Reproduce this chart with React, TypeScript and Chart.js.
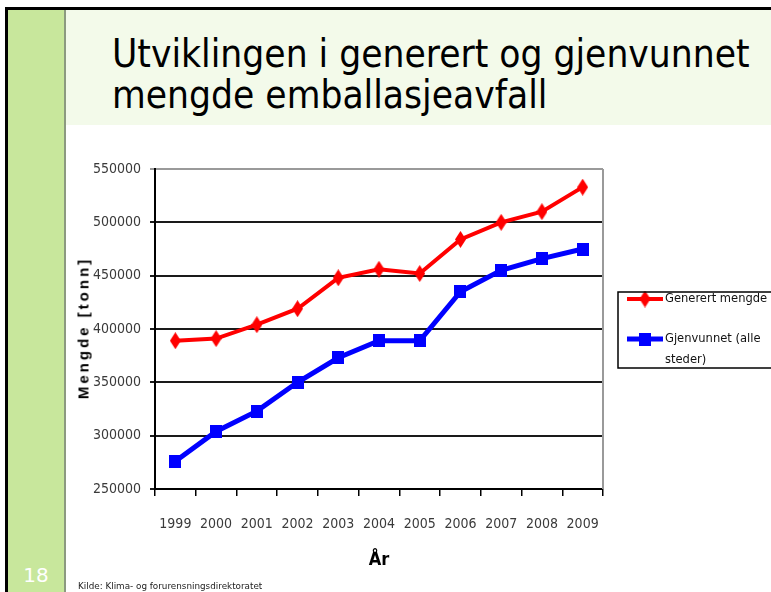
import React, { useEffect, useRef } from "react";
import { Chart, registerables } from "chart.js";

Chart.register(...registerables);

// ---- data ----
const years = ["1999", "2000", "2001", "2002", "2003", "2004", "2005", "2006", "2007", "2008", "2009"];
const generert = [389000, 391000, 404000, 419000, 448000, 456000, 452000, 484000, 500000, 510000, 533000];
const gjenvunnet = [276000, 304000, 323000, 350000, 373000, 389000, 389000, 435000, 455000, 466000, 475000];
const yTicks = [250000, 300000, 350000, 400000, 450000, 500000, 550000];
const seriesLabels = ["Generert mengde", "Gjenvunnet (alle steder)"];
const titleLines = ["Utviklingen i generert og gjenvunnet", "mengde emballasjeavfall"];
const yTitle = "Mengde [tonn]";
const xTitle = "År";
const slideNumber = "18";
const sourceText = "Kilde: Klima- og forurensningsdirektoratet";

const RED = "#ff0000";
const BLUE = "#0000ff";
const NARROW = "'DejaVu Sans Condensed', sans-serif";

function makeDiamond(color: string, w: number, h: number) {
  const c = document.createElement("canvas");
  c.width = w;
  c.height = h;
  const g = c.getContext("2d")!;
  g.fillStyle = color;
  g.beginPath();
  g.moveTo(w / 2, 0);
  g.lineTo(w, h / 2);
  g.lineTo(w / 2, h);
  g.lineTo(0, h / 2);
  g.closePath();
  g.fill();
  return c;
}

function makeSquare(color: string, w: number, h: number) {
  const c = document.createElement("canvas");
  c.width = w;
  c.height = h;
  const g = c.getContext("2d")!;
  g.fillStyle = color;
  g.fillRect(0, 0, w, h);
  return c;
}

const framePlugin = {
  id: "frame",
  beforeDatasetsDraw(chart: any) {
    const { ctx, chartArea } = chart;
    ctx.save();
    ctx.strokeStyle = "#9a9a9a";
    ctx.lineWidth = 2;
    ctx.beginPath();
    ctx.moveTo(chartArea.right, chartArea.top);
    ctx.lineTo(chartArea.right, chartArea.bottom);
    ctx.stroke();
    ctx.restore();
  },
};

const legendPlugin = {
  id: "boxLegend",
  afterDraw(chart: any) {
    const { ctx } = chart;
    const bx = 552, by = 167, bw = 220, bh = 76;
    const rowY = [174, 214];
    const lineX0 = 561, lineX1 = 597, textX = 599, lineH = 21, wrapW = 106;
    ctx.save();
    ctx.fillStyle = "#ffffff";
    ctx.fillRect(bx, by, bw, bh);
    ctx.font = `12.8px ${NARROW}`;
    ctx.textBaseline = "middle";
    chart.data.datasets.forEach((ds: any, i: number) => {
      const y = rowY[i];
      ctx.strokeStyle = ds.borderColor;
      ctx.lineWidth = ds.borderWidth;
      ctx.beginPath();
      ctx.moveTo(lineX0, y);
      ctx.lineTo(lineX1, y);
      ctx.stroke();
      const img = ds.pointStyle as HTMLCanvasElement;
      ctx.drawImage(img, (lineX0 + lineX1) / 2 - img.width / 2, y - img.height / 2);
      const words = String(ds.label).split(" ");
      const lines: string[] = [];
      let cur = "";
      words.forEach((w) => {
        const t = cur ? cur + " " + w : w;
        if (ctx.measureText(t).width > wrapW && cur) {
          lines.push(cur);
          cur = w;
        } else cur = t;
      });
      if (cur) lines.push(cur);
      ctx.fillStyle = "#111";
      lines.forEach((l, k) => ctx.fillText(l, textX, y + k * lineH));
    });
    ctx.strokeStyle = "#000";
    ctx.lineWidth = 1.5;
    ctx.strokeRect(bx, by, bw, bh);
    ctx.restore();
  },
};

export default function App() {
  const ref = useRef<HTMLCanvasElement>(null);

  useEffect(() => {
    const canvas = ref.current!;
    const diamond = makeDiamond(RED, 11, 17);
    const square = makeSquare(BLUE, 12, 13);
    const chart = new Chart(canvas, {
      type: "line",
      data: {
        labels: years,
        datasets: [
          {
            label: seriesLabels[0],
            data: generert,
            borderColor: RED,
            backgroundColor: RED,
            borderWidth: 4,
            pointStyle: diamond as any,
            pointRadius: 6,
            tension: 0,
            fill: false,
          },
          {
            label: seriesLabels[1],
            data: gjenvunnet,
            borderColor: BLUE,
            backgroundColor: BLUE,
            borderWidth: 5,
            pointStyle: square as any,
            pointRadius: 6,
            tension: 0,
            fill: false,
          },
        ],
      },
      options: {
        responsive: false,
        animation: false,
        layout: { padding: { left: 0, top: 44, right: 168, bottom: 0 } },
        plugins: { legend: { display: false }, tooltip: { enabled: false } },
        scales: {
          x: {
            type: "category",
            offset: true,
            grid: {
              offset: true,
              drawOnChartArea: false,
              drawTicks: true,
              tickLength: 7,
              color: "#000",
              lineWidth: 1.5,
            },
            border: { display: true, color: "#000", width: 2 },
            ticks: {
              color: "#3a3a3a",
              font: { family: NARROW, size: 14 },
              padding: 20,
              maxRotation: 0,
              autoSkip: false,
            },
            afterFit: (s: any) => {
              s.height = 103;
            },
          },
          y: {
            min: yTicks[0],
            max: yTicks[yTicks.length - 1],
            afterBuildTicks: (s: any) => {
              s.ticks = yTicks.map((v) => ({ value: v }));
            },
            grid: {
              color: (c: any) => (c.tick && c.tick.value === yTicks[yTicks.length - 1] ? "#9a9a9a" : "#1a1a1a"),
              lineWidth: 2,
              drawTicks: true,
              tickLength: 5,
            },
            border: { display: true, color: "#000", width: 2 },
            ticks: {
              color: "#3a3a3a",
              font: { family: NARROW, size: 14 },
              padding: 9,
              callback: (v: any) => String(v),
            },
            afterFit: (s: any) => {
              s.width = 89;
            },
          },
        },
      },
      plugins: [framePlugin, legendPlugin],
    });
    return () => chart.destroy();
  }, []);

  return (
    <div
      style={{
        position: "absolute",
        left: 0,
        top: 0,
        width: 771,
        height: 592,
        background: "#fff",
        overflow: "hidden",
        fontFamily: "'DejaVu Sans', sans-serif",
      }}
    >
      <div style={{ position: "absolute", left: 5, top: 7, width: 766, height: 3, background: "#000" }} />
      <div style={{ position: "absolute", left: 5, top: 7, width: 3, height: 585, background: "#000" }} />
      <div style={{ position: "absolute", left: 8, top: 10, width: 56, height: 582, background: "#c8e79c" }} />
      <div style={{ position: "absolute", left: 64, top: 10, width: 2, height: 582, background: "#8c9a80" }} />
      <div style={{ position: "absolute", left: 66, top: 10, width: 705, height: 115, background: "#f3faea" }} />
      <div
        style={{
          position: "absolute",
          left: 112,
          top: 33,
          fontFamily: "'DejaVu Sans Condensed', 'DejaVu Sans', sans-serif",
          fontSize: 38.5,
          lineHeight: "41px",
          color: "#000",
          whiteSpace: "nowrap",
        }}
      >
        {titleLines.map((t, i) => (
          <div key={i}>{t}</div>
        ))}
      </div>
      <canvas
        ref={ref}
        width={705}
        height={467}
        style={{ position: "absolute", left: 66, top: 125, width: 705, height: 467 }}
      />
      <div
        style={{
          position: "absolute",
          left: 83,
          top: 328,
          transform: "translate(-50%, -50%) rotate(-90deg)",
          fontFamily: "'Liberation Sans', Arial, sans-serif",
          fontWeight: "bold",
          fontSize: 15,
          letterSpacing: 3,
          whiteSpace: "nowrap",
          color: "#000",
        }}
      >
        {yTitle}
      </div>
      <div
        style={{
          position: "absolute",
          left: 379,
          top: 558,
          transform: "translate(-50%, -50%)",
          fontFamily: NARROW,
          fontWeight: "bold",
          fontSize: 18,
          whiteSpace: "nowrap",
          color: "#000",
        }}
      >
        {xTitle}
      </div>
      <div
        style={{
          position: "absolute",
          left: 36,
          top: 575,
          transform: "translate(-50%, -50%)",
          fontSize: 20,
          color: "#fff",
        }}
      >
        {slideNumber}
      </div>
      <div
        style={{
          position: "absolute",
          left: 78,
          top: 581,
          fontSize: 8.8,
          lineHeight: "10px",
          color: "#222",
          whiteSpace: "nowrap",
        }}
      >
        {sourceText}
      </div>
    </div>
  );
}
